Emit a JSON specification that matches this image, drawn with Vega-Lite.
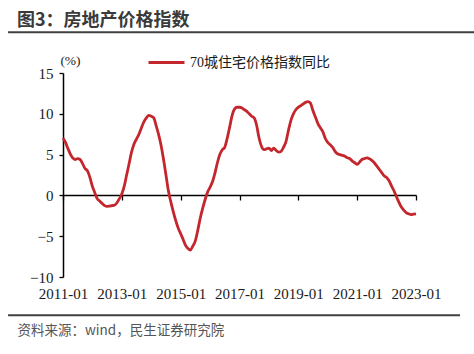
{
  "$schema": "https://vega.github.io/schema/vega-lite/v6.json",
  "width": 353,
  "height": 204,
  "autosize": {"type": "none"},
  "padding": {"left": 63, "top": 73, "right": 58, "bottom": 77},
  "background": "white",
  "config": {"view": {"stroke": null}, "font": "Liberation Serif"},
  "title": {
    "text": "图3：房地产价格指数",
    "anchor": "start",
    "frame": "group",
    "dx": -46,
    "offset": 1,
    "font": "Noto Sans CJK SC",
    "fontSize": 18,
    "fontWeight": "bold",
    "color": "#3a3a3a"
  },
  "data": {
    "format": {"parse": {"date": "utc:'%Y-%m'"}},
    "values": [
      {"date": "2011-01", "v": 7.0}, {"date": "2011-02", "v": 6.5}, {"date": "2011-03", "v": 5.8}, {"date": "2011-04", "v": 5.1},
      {"date": "2011-05", "v": 4.6}, {"date": "2011-06", "v": 4.4}, {"date": "2011-07", "v": 4.5}, {"date": "2011-08", "v": 4.4},
      {"date": "2011-09", "v": 3.9}, {"date": "2011-10", "v": 3.3}, {"date": "2011-11", "v": 3.0}, {"date": "2011-12", "v": 2.2},
      {"date": "2012-01", "v": 1.1}, {"date": "2012-02", "v": 0.3}, {"date": "2012-03", "v": -0.4}, {"date": "2012-04", "v": -0.7},
      {"date": "2012-05", "v": -1.0}, {"date": "2012-06", "v": -1.25}, {"date": "2012-07", "v": -1.35}, {"date": "2012-08", "v": -1.3},
      {"date": "2012-09", "v": -1.25}, {"date": "2012-10", "v": -1.2}, {"date": "2012-11", "v": -0.9}, {"date": "2012-12", "v": -0.4},
      {"date": "2013-01", "v": 0.2}, {"date": "2013-02", "v": 1.2}, {"date": "2013-03", "v": 2.5}, {"date": "2013-04", "v": 3.9},
      {"date": "2013-05", "v": 5.3}, {"date": "2013-06", "v": 6.3}, {"date": "2013-07", "v": 6.9}, {"date": "2013-08", "v": 7.5},
      {"date": "2013-09", "v": 8.3}, {"date": "2013-10", "v": 9.0}, {"date": "2013-11", "v": 9.5}, {"date": "2013-12", "v": 9.8},
      {"date": "2014-01", "v": 9.7}, {"date": "2014-02", "v": 9.5}, {"date": "2014-03", "v": 8.6}, {"date": "2014-04", "v": 7.5},
      {"date": "2014-05", "v": 6.2}, {"date": "2014-06", "v": 4.5}, {"date": "2014-07", "v": 2.6}, {"date": "2014-08", "v": 0.6},
      {"date": "2014-09", "v": -0.8}, {"date": "2014-10", "v": -2.0}, {"date": "2014-11", "v": -3.1}, {"date": "2014-12", "v": -4.0},
      {"date": "2015-01", "v": -4.7}, {"date": "2015-02", "v": -5.4}, {"date": "2015-03", "v": -6.1}, {"date": "2015-04", "v": -6.5},
      {"date": "2015-05", "v": -6.7}, {"date": "2015-06", "v": -6.2}, {"date": "2015-07", "v": -5.6}, {"date": "2015-08", "v": -4.3},
      {"date": "2015-09", "v": -2.8}, {"date": "2015-10", "v": -1.6}, {"date": "2015-11", "v": -0.5}, {"date": "2015-12", "v": 0.4},
      {"date": "2016-01", "v": 1.0}, {"date": "2016-02", "v": 1.7}, {"date": "2016-03", "v": 2.7}, {"date": "2016-04", "v": 4.0},
      {"date": "2016-05", "v": 5.0}, {"date": "2016-06", "v": 5.6}, {"date": "2016-07", "v": 5.9}, {"date": "2016-08", "v": 7.0},
      {"date": "2016-09", "v": 8.4}, {"date": "2016-10", "v": 9.8}, {"date": "2016-11", "v": 10.6}, {"date": "2016-12", "v": 10.8},
      {"date": "2017-01", "v": 10.8}, {"date": "2017-02", "v": 10.7}, {"date": "2017-03", "v": 10.5}, {"date": "2017-04", "v": 10.3},
      {"date": "2017-05", "v": 10.0}, {"date": "2017-06", "v": 9.7}, {"date": "2017-07", "v": 9.5}, {"date": "2017-08", "v": 8.6},
      {"date": "2017-09", "v": 7.0}, {"date": "2017-10", "v": 6.0}, {"date": "2017-11", "v": 5.6}, {"date": "2017-12", "v": 5.7},
      {"date": "2018-01", "v": 5.8}, {"date": "2018-02", "v": 5.5}, {"date": "2018-03", "v": 5.8}, {"date": "2018-04", "v": 5.5},
      {"date": "2018-05", "v": 5.3}, {"date": "2018-06", "v": 5.4}, {"date": "2018-07", "v": 5.9}, {"date": "2018-08", "v": 6.6},
      {"date": "2018-09", "v": 8.0}, {"date": "2018-10", "v": 9.2}, {"date": "2018-11", "v": 10.0}, {"date": "2018-12", "v": 10.5},
      {"date": "2019-01", "v": 10.8}, {"date": "2019-02", "v": 11.0}, {"date": "2019-03", "v": 11.2}, {"date": "2019-04", "v": 11.4},
      {"date": "2019-05", "v": 11.5}, {"date": "2019-06", "v": 11.3}, {"date": "2019-07", "v": 10.4}, {"date": "2019-08", "v": 9.6},
      {"date": "2019-09", "v": 8.8}, {"date": "2019-10", "v": 8.3}, {"date": "2019-11", "v": 7.8}, {"date": "2019-12", "v": 7.0},
      {"date": "2020-01", "v": 6.5}, {"date": "2020-02", "v": 6.2}, {"date": "2020-03", "v": 5.9}, {"date": "2020-04", "v": 5.4},
      {"date": "2020-05", "v": 5.1}, {"date": "2020-06", "v": 5.0}, {"date": "2020-07", "v": 4.9}, {"date": "2020-08", "v": 4.8},
      {"date": "2020-09", "v": 4.6}, {"date": "2020-10", "v": 4.5}, {"date": "2020-11", "v": 4.2}, {"date": "2020-12", "v": 4.0},
      {"date": "2021-01", "v": 3.8}, {"date": "2021-02", "v": 4.1}, {"date": "2021-03", "v": 4.4}, {"date": "2021-04", "v": 4.5},
      {"date": "2021-05", "v": 4.6}, {"date": "2021-06", "v": 4.5}, {"date": "2021-07", "v": 4.3}, {"date": "2021-08", "v": 4.0},
      {"date": "2021-09", "v": 3.6}, {"date": "2021-10", "v": 3.2}, {"date": "2021-11", "v": 2.8}, {"date": "2021-12", "v": 2.4},
      {"date": "2022-01", "v": 2.2}, {"date": "2022-02", "v": 1.8}, {"date": "2022-03", "v": 1.2}, {"date": "2022-04", "v": 0.6},
      {"date": "2022-05", "v": -0.1}, {"date": "2022-06", "v": -0.8}, {"date": "2022-07", "v": -1.4}, {"date": "2022-08", "v": -1.8},
      {"date": "2022-09", "v": -2.1}, {"date": "2022-10", "v": -2.25}, {"date": "2022-11", "v": -2.35}, {"date": "2022-12", "v": -2.3},
      {"date": "2023-01", "v": -2.25}
    ]
  },
  "layer": [
    {
      "mark": {"type": "line", "strokeWidth": 2.8, "interpolate": "monotone"},
      "encoding": {
        "x": {
          "field": "date",
          "type": "temporal",
          "scale": {"type": "utc", "domain": [{"year": 2011, "month": 1, "date": 1, "utc": true}, {"year": 2023, "month": 1, "date": 1, "utc": true}]},
          "axis": {
            "orient": "bottom",
            "domain": false,
            "ticks": false,
            "tickSize": 0,
            "grid": false,
            "format": "%Y-%m",
            "values": [
              {"year": 2011, "month": 1, "date": 1, "utc": true}, {"year": 2013, "month": 1, "date": 1, "utc": true},
              {"year": 2015, "month": 1, "date": 1, "utc": true}, {"year": 2017, "month": 1, "date": 1, "utc": true},
              {"year": 2019, "month": 1, "date": 1, "utc": true}, {"year": 2021, "month": 1, "date": 1, "utc": true},
              {"year": 2023, "month": 1, "date": 1, "utc": true}
            ],
            "labelFont": "Liberation Serif",
            "labelFontSize": 15,
            "labelColor": "#1a1a1a",
            "labelPadding": 9,
            "labelAlign": "center",
            "labelBaseline": "top",
            "labelOverlap": false,
            "labelFlush": false,
            "labelBound": false,
            "title": "资料来源：wind，民生证券研究院",
            "titleFont": "Noto Sans CJK SC",
            "titleFontSize": 13.5,
            "titleFontWeight": "normal",
            "titleColor": "#555555",
            "titleX": -46,
            "titleY": 53,
            "titleAlign": "left",
            "titleBaseline": "middle"
          }
        },
        "y": {
          "field": "v",
          "type": "quantitative",
          "scale": {"domain": [-10, 15], "nice": false, "zero": false},
          "axis": {
            "values": [-10, -5, 0, 5, 10, 15],
            "grid": false,
            "domainColor": "#000000",
            "domainWidth": 1.5,
            "tickColor": "#000000",
            "tickWidth": 1.3,
            "tickSize": 4,
            "labelFont": "Liberation Serif",
            "labelFontSize": 15,
            "labelColor": "#1a1a1a",
            "labelPadding": 6,
            "title": "(%)",
            "titleFont": "Liberation Serif",
            "titleFontSize": 13.5,
            "titleFontWeight": "normal",
            "titleColor": "#1a1a1a",
            "titleAngle": 0,
            "titleX": 7,
            "titleY": -13,
            "titleAlign": "center",
            "titleBaseline": "middle"
          }
        },
        "color": {
          "datum": "70城住宅价格指数同比",
          "scale": {"range": ["#c4262d"]},
          "legend": {
            "orient": "none",
            "legendX": 84,
            "legendY": -30,
            "title": null,
            "padding": 0,
            "symbolType": "stroke",
            "symbolSize": 1296,
            "symbolStrokeWidth": 3,
            "labelFont": "Liberation Serif, Noto Sans CJK SC",
            "labelFontSize": 14,
            "labelColor": "#1a1a1a",
            "labelOffset": 4
          }
        }
      }
    },
    {
      "data": {"values": [{}]},
      "mark": {"type": "rule", "strokeWidth": 2, "color": "#404040", "clip": false},
      "encoding": {
        "x": {
          "datum": {"year": 2009, "month": 2, "date": 18, "utc": true},
          "type": "temporal",
          "axis": {
            "orient": "bottom",
            "offset": -82,
            "labels": false,
            "grid": false,
            "title": null,
            "domain": true,
            "domainColor": "#000000",
            "domainWidth": 1.5,
            "ticks": true,
            "tickColor": "#000000",
            "tickWidth": 1.3,
            "tickSize": 5,
            "values": [
              {"year": 2011, "month": 1, "date": 1, "utc": true}, {"year": 2013, "month": 1, "date": 1, "utc": true},
              {"year": 2015, "month": 1, "date": 1, "utc": true}, {"year": 2017, "month": 1, "date": 1, "utc": true},
              {"year": 2019, "month": 1, "date": 1, "utc": true}, {"year": 2021, "month": 1, "date": 1, "utc": true},
              {"year": 2023, "month": 1, "date": 1, "utc": true}
            ]
          }
        },
        "x2": {"datum": {"year": 2024, "month": 12, "date": 22, "utc": true}},
        "y": {"datum": 20, "type": "quantitative"}
      }
    },
    {
      "data": {"values": [{}]},
      "mark": {"type": "rule", "strokeWidth": 2, "color": "#404040", "clip": false},
      "encoding": {
        "x": {"datum": {"year": 2009, "month": 2, "date": 18, "utc": true}, "type": "temporal", "axis": null},
        "x2": {"datum": {"year": 2024, "month": 7, "date": 1, "utc": true}},
        "y": {"datum": -14.7, "type": "quantitative"}
      }
    }
  ],
  "resolve": {"axis": {"x": "independent"}}
}
